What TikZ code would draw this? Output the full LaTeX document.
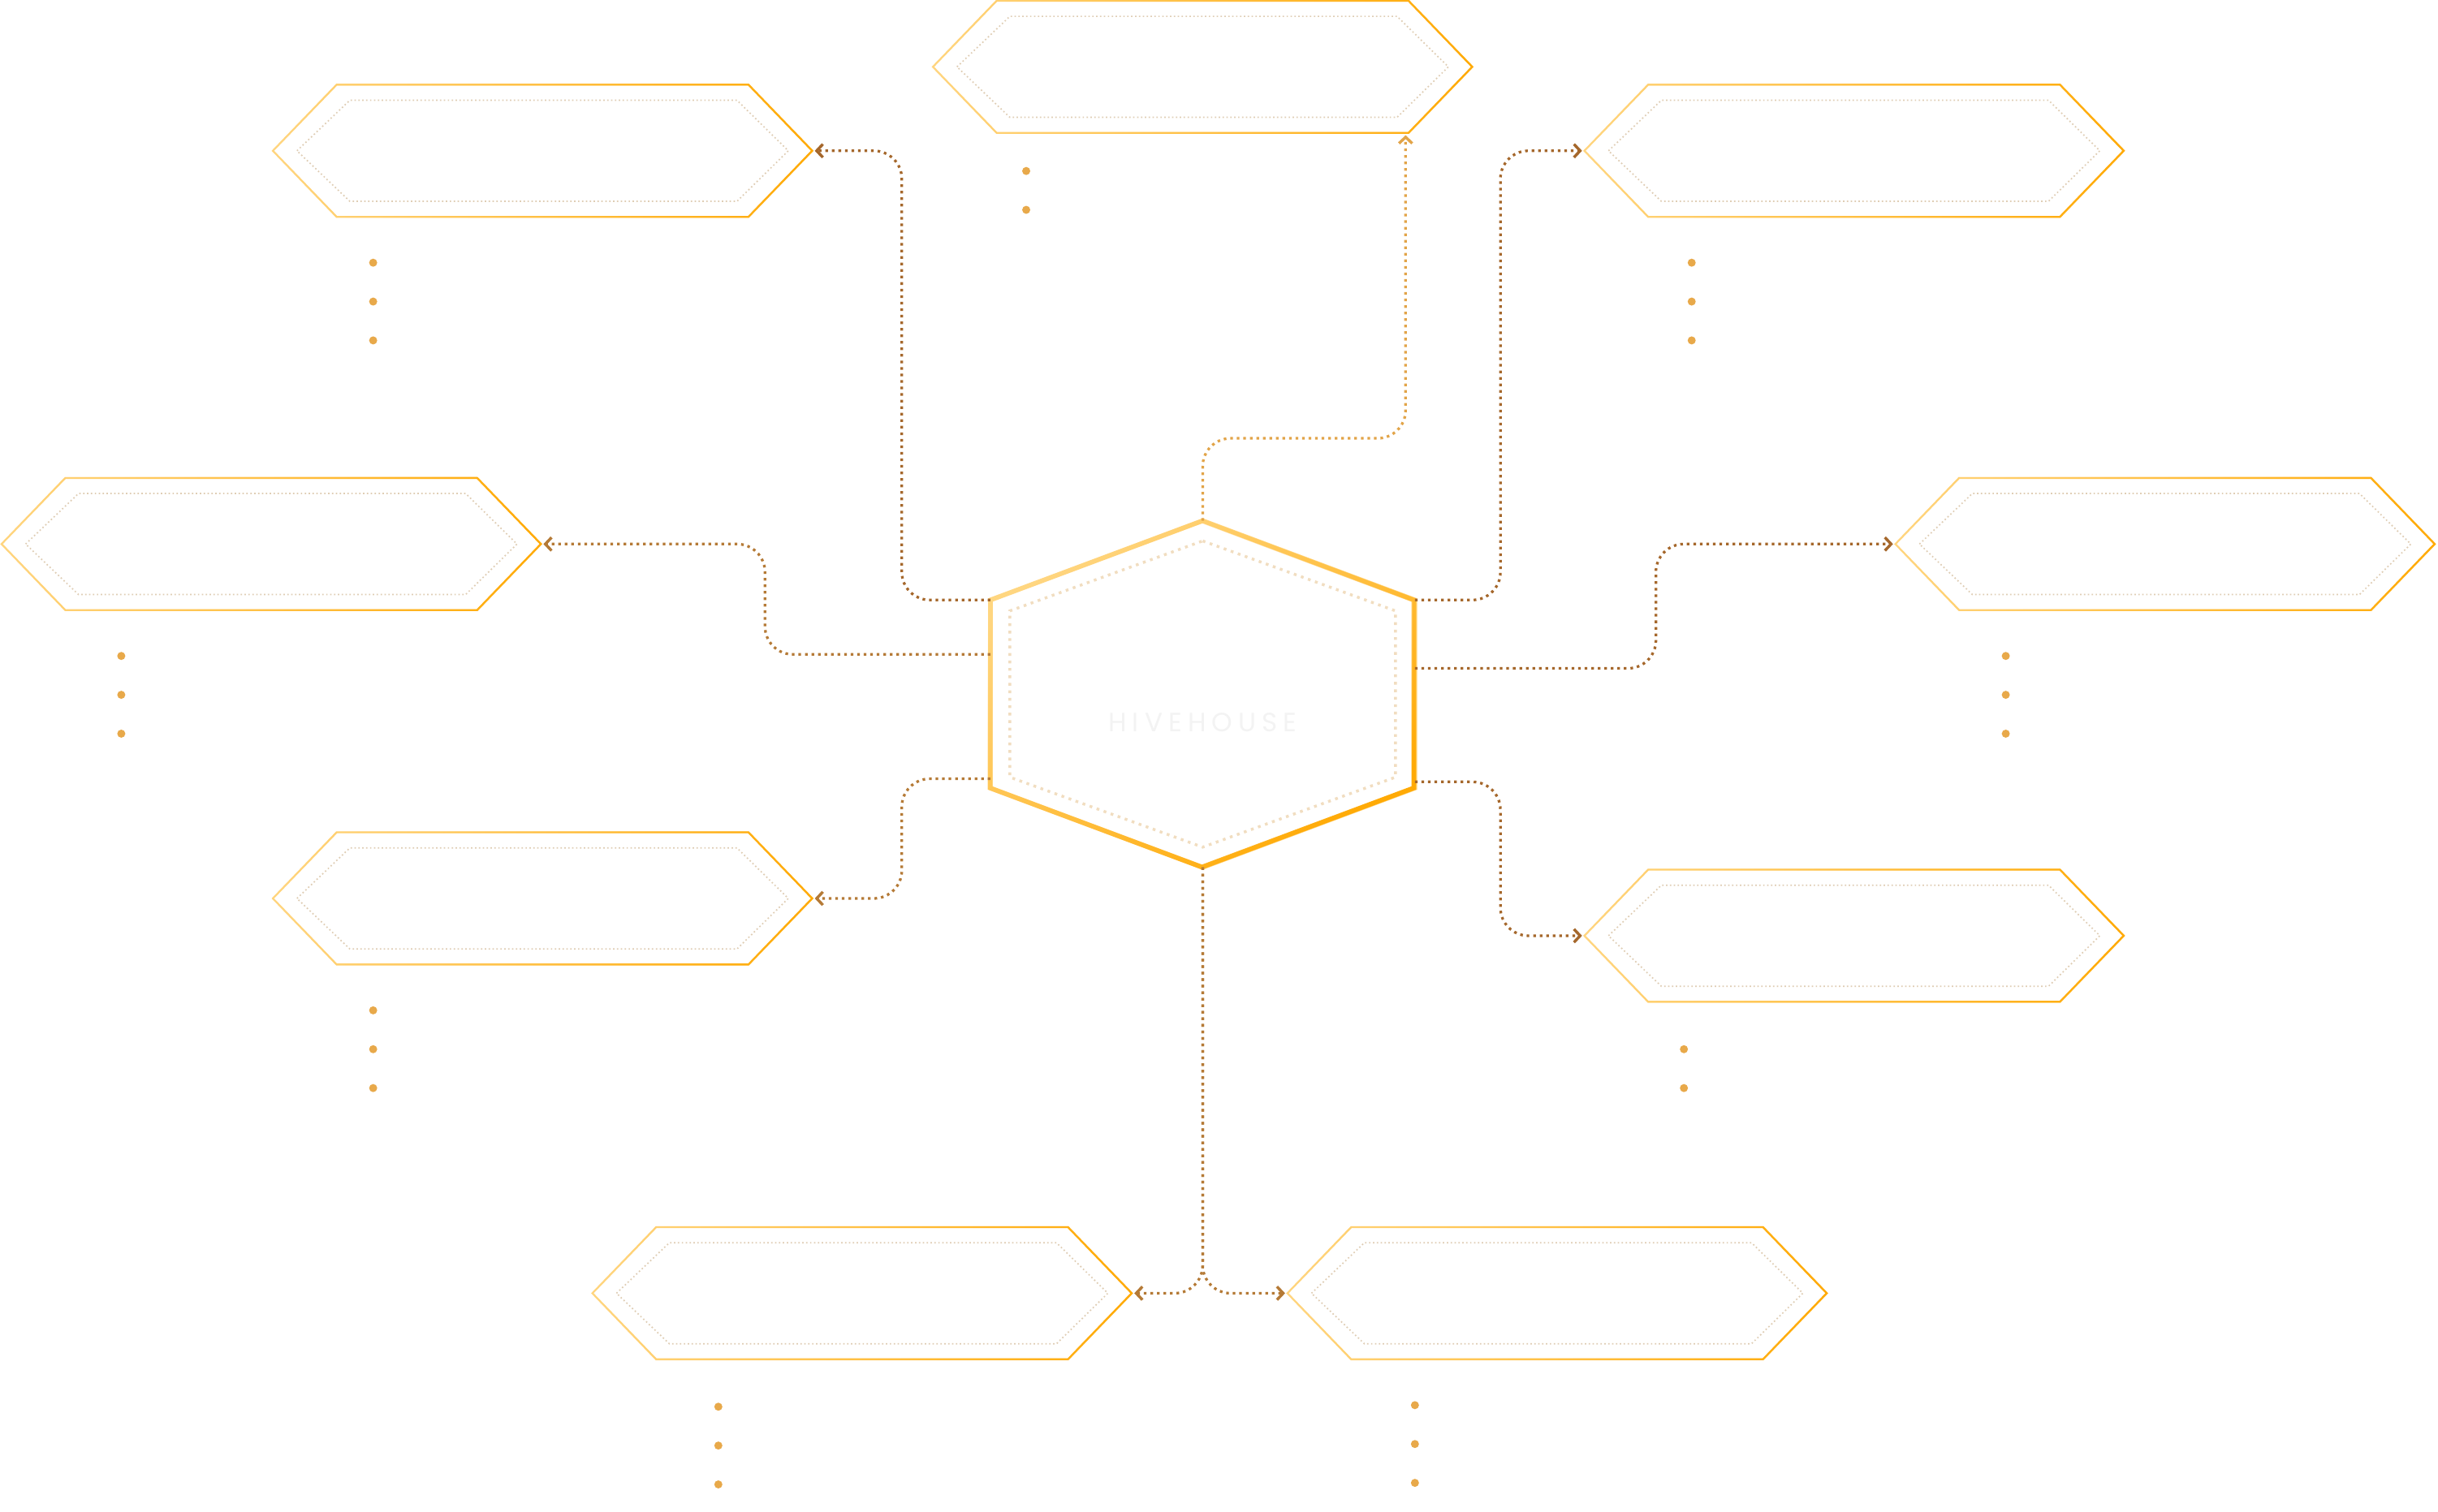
\documentclass[tikz,border=0pt]{standalone}
\usepackage{fontspec}
\newfontfamily\brandfont[LetterSpace=22]{Poppins}
\usetikzlibrary{arrows.meta,fadings}

\definecolor{honeylight}{HTML}{FFD680}
\definecolor{honeydark}{HTML}{FFAA05}
\definecolor{combbeige}{HTML}{DFCDB4}
\definecolor{corebeige}{HTML}{F1DDC0}
\definecolor{waxdark}{HTML}{A5672B}
\definecolor{waxmid}{HTML}{B57A36}
\definecolor{waxlight}{HTML}{E2A448}
\definecolor{bulletcol}{HTML}{E8A94A}
\definecolor{brandgrey}{HTML}{F3F3F3}

\tikzfading[name=honey fade, left color=transparent!100, right color=transparent!0]

\tikzset{
  cellline/.style={draw=honeylight, line width=1.2pt, postaction={draw=honeydark, path fading=honey fade}},
  celldots/.style={draw=combbeige, line width=0.9pt, dash pattern=on 0.9pt off 1.6pt},
  coreline/.style={draw=honeylight, line width=3pt, postaction={draw=honeydark, path fading=honey fade, fading angle=-45}},
  coredots/.style={draw=corebeige, line width=1.8pt, dash pattern=on 1.8pt off 3pt},
  link/.style={draw=#1, line width=1.7pt, dash pattern=on 1.7pt off 2.5pt, rounded corners=18pt, shorten >=1.5pt, -{Straight Barb[length=4pt,width=8.5pt,line width=1.8pt]}},
  bullet/.style={fill=bulletcol},
  % long hexagon cell
  cell/.pic={
    \draw[cellline] (-173.5,0) -- (-132.5,-42.5) -- (132.5,-42.5) -- (173.5,0) -- (132.5,42.5) -- (-132.5,42.5) -- cycle;
    \draw[celldots] (-158,0) -- (-124,-32.5) -- (125,-32.5) -- (158,0) -- (125,32.5) -- (-124,32.5) -- cycle;
    \coordinate (-w) at (-173.5,0);
    \coordinate (-e) at (173.5,0);
    \coordinate (-se) at (130.5,42.5);
  },
  % centre hexagon
  core/.pic={
    \draw[coreline] (0,-111.5) -- (136.5,-60.5) -- (136.5,60.5) -- (0,111.5) -- (-136.5,60.5) -- (-136.5,-60.5) -- cycle;
    \draw[coredots] (0,-98.5) -- (124,-53.5) -- (124,53.5) -- (0,98.5) -- (-124,53.5) -- (-124,-53.5) -- cycle;
    \node[text=brandgrey, font=\brandfont\fontsize{17}{20}\selectfont] (-name) at (0,18.5) {HIVEHOUSE};
    \coordinate (-t) at (0,-111.5);
    \coordinate (-b) at (0,111.5);
    \coordinate (-ul) at (-136.5,-60.5);
    \coordinate (-ur) at (136.5,-60.5);
    \coordinate (-l1) at (-136.5,-25.5);
    \coordinate (-r1) at (136.5,-16.5);
    \coordinate (-l2) at (-136.5,54.5);
    \coordinate (-r2) at (136.5,56.5);
  }
}

\begin{document}
\begin{tikzpicture}[x=1pt,y=-1pt]
	\useasboundingbox[fill=white] (0,0) rectangle (1568,972.7);

	% coordinates for the connectors
	\pic (hive) at (773.5,446.5) {core};
	\pic (tc) at (773.5,43) {cell};
	\pic (tl) at (349,97) {cell};
	\pic (tr) at (1192.5,97) {cell};
	\pic (ml) at (174.5,350) {cell};
	\pic (mr) at (1392.5,350) {cell};
	\pic (ll) at (349,578) {cell};
	\pic (lr) at (1192.5,602) {cell};
	\pic (bl) at (554.5,832) {cell};
	\pic (br) at (1001.5,832) {cell};

	\draw[link=waxdark] (hive-ul) -- ++(-57,0) |- (tl-e);
	\draw[link=waxlight] (hive-t) -- ++(0,-53) -| (tc-se);
	\draw[link=waxdark] (hive-ur) -- ++(55,0) |- (tr-w);
	\draw[link=waxmid] (hive-l1) -- ++(-145,0) |- (ml-e);
	\draw[link=waxdark] (hive-r1) -- ++(155,0) |- (mr-w);
	\draw[link=waxmid] (hive-l2) -- ++(-57,0) |- (ll-e);
	\draw[link=waxdark] (hive-r2) -- ++(55,0) |- (lr-w);
	\draw[link=waxmid] (hive-b) |- (bl-e);
	\draw[link=waxmid] (hive-b) |- (br-w);

	% bullet dots under the cells
	\foreach \x/\y/\n in {660/110/2, 240/169/3, 1088/169/3, 78/422/3, 1290/422/3, 240/650/3, 1083/675/2, 462/905/3, 910/904/3}
		\foreach \k in {1,...,\n}
			\fill[bullet] (\x,\y+25*\k-25) circle (2.6pt);
\end{tikzpicture}
\end{document}
